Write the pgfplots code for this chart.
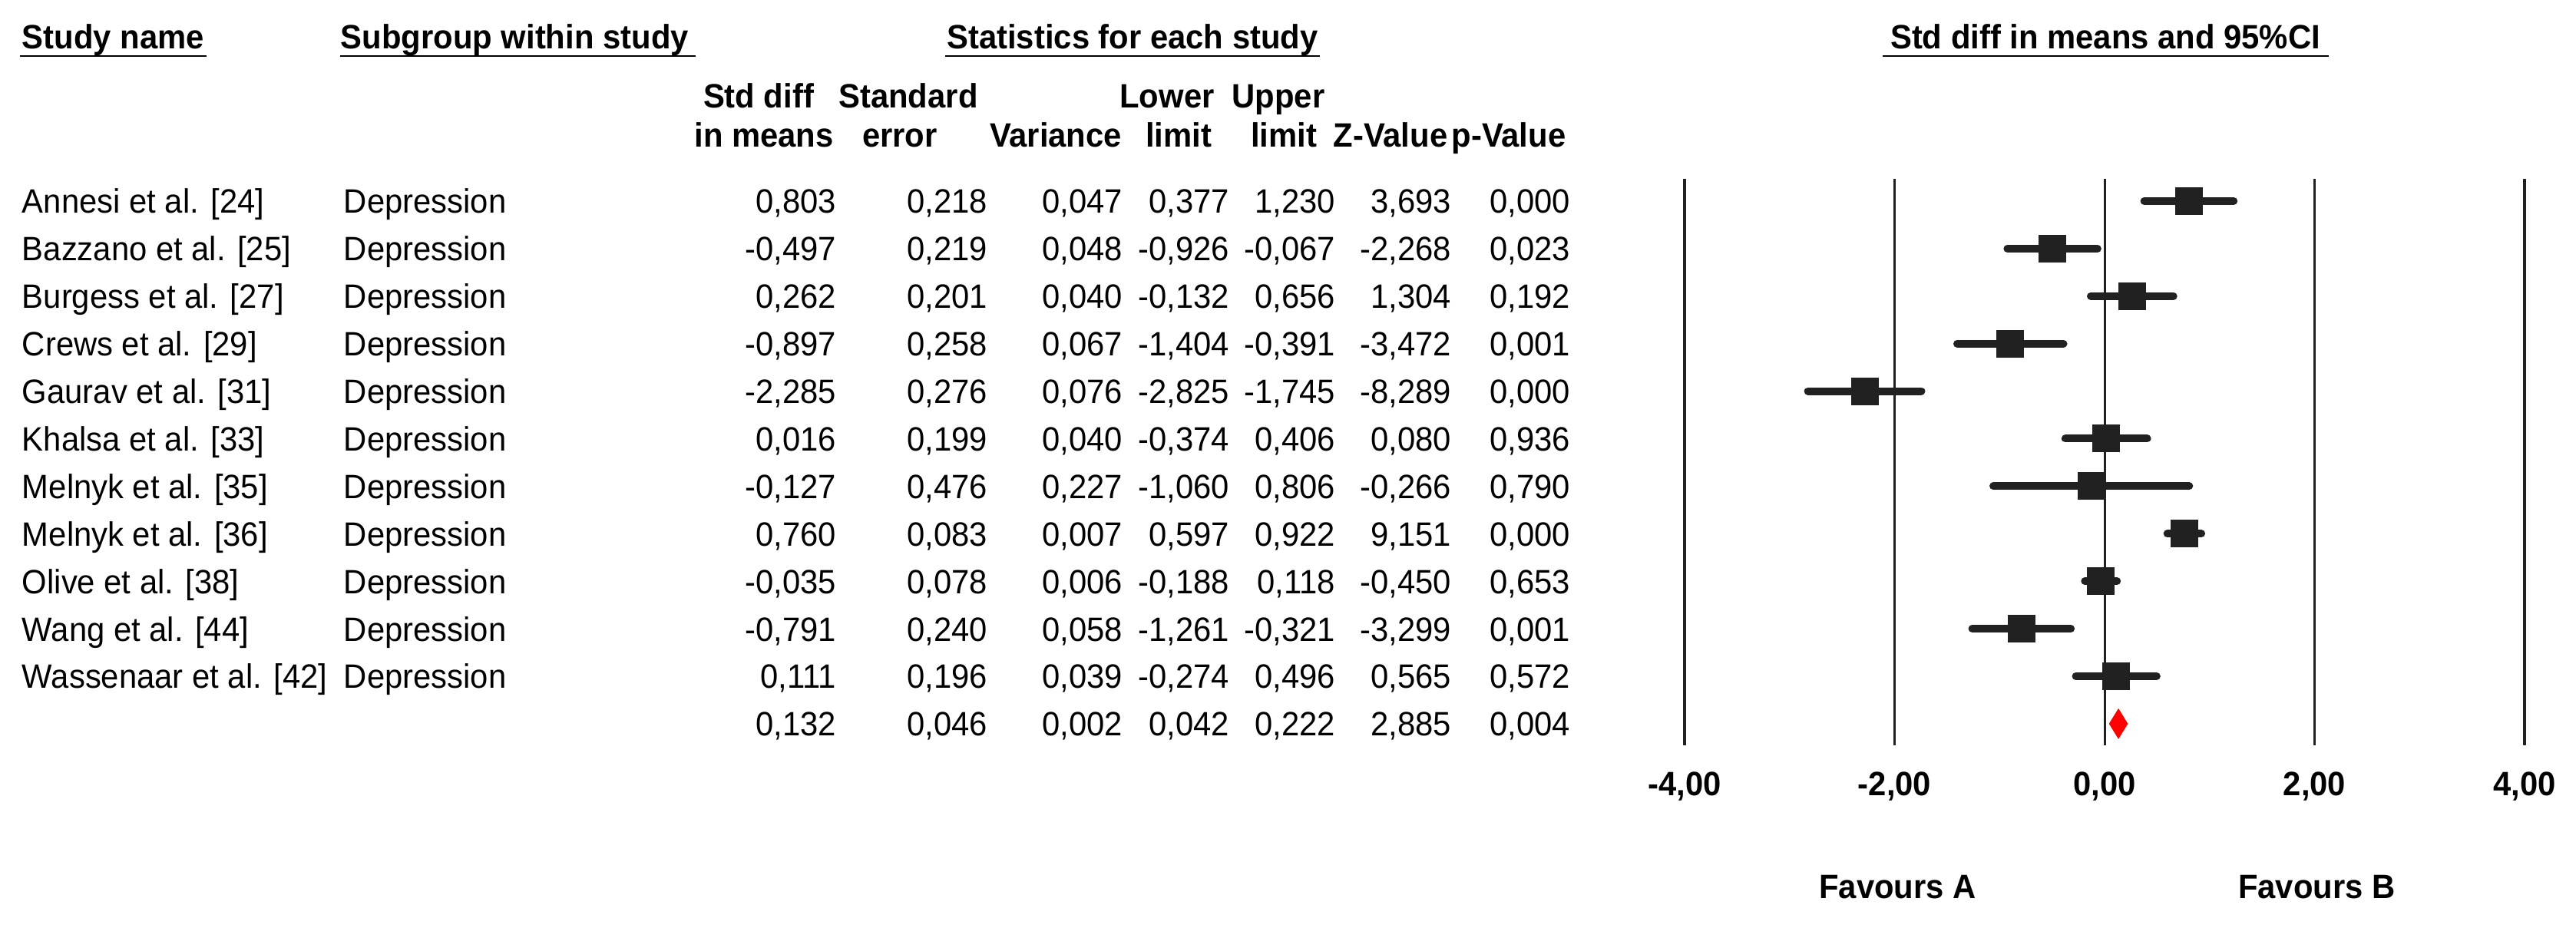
\documentclass[border=0pt]{standalone}
\usepackage{fontspec}
\setmainfont{Liberation Sans}[FakeStretch=0.95]
\usepackage{pgfplots}
\pgfplotsset{compat=1.18}
\usepackage{pgfplotstable}
\usetikzlibrary{calc}
\definecolor{mk}{RGB}{33,33,33}

\pgfplotstableread{
row est lo hi
0 0.803 0.377 1.230
-1 -0.497 -0.926 -0.067
-2 0.262 -0.132 0.656
-3 -0.897 -1.404 -0.391
-4 -2.285 -2.825 -1.745
-5 0.016 -0.374 0.406
-6 -0.127 -1.060 0.806
-7 0.760 0.597 0.922
-8 -0.035 -0.188 0.118
-9 -0.791 -1.261 -0.321
-10 0.111 -0.274 0.496
}\studies

% pixel -> rel axis cs helper
\newcommand\PX[2]{(rel axis cs:{(#1)/3355},{1-(#2)/1209})}
\newcommand\fs{\fontsize{8.8}{10}\selectfont}

\newcommand\datarow[9]{%
  \node[anchor=base west] at \PX{28}{278+61.9*#1} {#2};
  \node[anchor=base west] at \PX{447}{278+61.9*#1} {#3};
  \node[anchor=base east] at \PX{1090}{278+61.9*#1} {#4};
  \node[anchor=base east] at \PX{1287}{278+61.9*#1} {#5};
  \node[anchor=base east] at \PX{1463}{278+61.9*#1} {#6};
  \node[anchor=base east] at \PX{1602}{278+61.9*#1} {#7};
  \node[anchor=base east] at \PX{1740}{278+61.9*#1} {#8};
  \node[anchor=base east] at \PX{1891}{278+61.9*#1} {#9};
}
\newcommand\lastcol[2]{%
  \node[anchor=base east] at \PX{2046}{278+61.9*#1} {#2};
}

\begin{document}
\begin{tikzpicture}[every node/.style={font=\fs, inner sep=0pt}]
\begin{axis}[
  width=671pt, height=241.8pt, scale only axis,
  xmin=-20.044, xmax=4.490,
  ymin=-15.299, ymax=4.2327,
  hide axis, clip=false,
]
% vertical reference lines
\addplot[mk, line width=0.6pt] coordinates {(-2,0.4685) (-2,-11.454)};
\addplot[mk, line width=0.6pt] coordinates {(0,0.4685) (0,-11.454)};
\addplot[mk, line width=0.6pt] coordinates {(2,0.4685) (2,-11.454)};
\addplot[mk, line width=0.8pt] coordinates {(-4,0.4685) (-4,-11.454)};
\addplot[mk, line width=0.8pt] coordinates {(4,0.4685) (4,-11.454)};

% study estimates with CI
\addplot[only marks, mark=square*, mark size=3.4pt,
  mark options={fill=mk, draw=mk, line width=0.4pt},
  error bars/.cd, x dir=both, x explicit, error mark=none,
  error bar style={line width=2pt, line cap=round, color=mk}]
  table[x=est, y=row,
    x error plus expr=\thisrow{hi}-\thisrow{est},
    x error minus expr=\thisrow{est}-\thisrow{lo}] {\studies};

% summary diamond
\addplot[fill=red, draw=none] coordinates {(0.042,-11) (0.132,-10.677) (0.222,-11) (0.132,-11.323)} -- cycle;

% headers
\node[anchor=base west, font=\fs\bfseries] at \PX{28}{64} {Study name};
\node[anchor=base west, font=\fs\bfseries] at \PX{443}{64} {Subgroup within study};
\node[anchor=base, font=\fs\bfseries] at \PX{1475}{64} {Statistics for each study};
\node[anchor=base, font=\fs\bfseries] at \PX{2742}{64} {Std diff in means and 95\%CI};
% header underlines
\draw[line width=0.4pt] \PX{26}{73} -- \PX{269}{73};
\draw[line width=0.4pt] \PX{443}{73} -- \PX{906}{73};
\draw[line width=0.4pt] \PX{1231}{73} -- \PX{1719}{73};
\draw[line width=0.4pt] \PX{2452}{73} -- \PX{3033}{73};

\node[anchor=base, font=\fs\bfseries] at \PX{988}{141} {Std diff};
\node[anchor=base, font=\fs\bfseries] at \PX{995}{192} {in means};
\node[anchor=base, font=\fs\bfseries] at \PX{1183}{141} {Standard};
\node[anchor=base, font=\fs\bfseries] at \PX{1172}{192} {error};
\node[anchor=base, font=\fs\bfseries] at \PX{1375}{192} {Variance};
\node[anchor=base, font=\fs\bfseries] at \PX{1520}{141} {Lower};
\node[anchor=base, font=\fs\bfseries] at \PX{1535}{192} {limit};
\node[anchor=base, font=\fs\bfseries] at \PX{1665}{141} {Upper};
\node[anchor=base, font=\fs\bfseries] at \PX{1672}{192} {limit};
\node[anchor=base, font=\fs\bfseries] at \PX{1811}{192} {Z-Value};
\node[anchor=base, font=\fs\bfseries] at \PX{1965}{192} {p-Value};

% table rows
\datarow{0}{Annesi et al. [24]}{Depression}{0,803}{0,218}{0,047}{0,377}{1,230}{3,693}\lastcol{0}{0,000}
\datarow{1}{Bazzano et al. [25]}{Depression}{-0,497}{0,219}{0,048}{-0,926}{-0,067}{-2,268}\lastcol{1}{0,023}
\datarow{2}{Burgess et al. [27]}{Depression}{0,262}{0,201}{0,040}{-0,132}{0,656}{1,304}\lastcol{2}{0,192}
\datarow{3}{Crews et al. [29]}{Depression}{-0,897}{0,258}{0,067}{-1,404}{-0,391}{-3,472}\lastcol{3}{0,001}
\datarow{4}{Gaurav et al. [31]}{Depression}{-2,285}{0,276}{0,076}{-2,825}{-1,745}{-8,289}\lastcol{4}{0,000}
\datarow{5}{Khalsa et al. [33]}{Depression}{0,016}{0,199}{0,040}{-0,374}{0,406}{0,080}\lastcol{5}{0,936}
\datarow{6}{Melnyk et al. [35]}{Depression}{-0,127}{0,476}{0,227}{-1,060}{0,806}{-0,266}\lastcol{6}{0,790}
\datarow{7}{Melnyk et al. [36]}{Depression}{0,760}{0,083}{0,007}{0,597}{0,922}{9,151}\lastcol{7}{0,000}
\datarow{8}{Olive et al. [38]}{Depression}{-0,035}{0,078}{0,006}{-0,188}{0,118}{-0,450}\lastcol{8}{0,653}
\datarow{9}{Wang et al. [44]}{Depression}{-0,791}{0,240}{0,058}{-1,261}{-0,321}{-3,299}\lastcol{9}{0,001}
\datarow{10}{Wassenaar et al. [42]}{Depression}{0,111}{0,196}{0,039}{-0,274}{0,496}{0,565}\lastcol{10}{0,572}
\datarow{11}{}{}{0,132}{0,046}{0,002}{0,042}{0,222}{2,885}\lastcol{11}{0,004}

% x tick labels
\node[anchor=base, font=\fs\bfseries] at (axis cs:-4,-12.52) {-4,00};
\node[anchor=base, font=\fs\bfseries] at (axis cs:-2,-12.52) {-2,00};
\node[anchor=base, font=\fs\bfseries] at (axis cs:0,-12.52) {0,00};
\node[anchor=base, font=\fs\bfseries] at (axis cs:2,-12.52) {2,00};
\node[anchor=base, font=\fs\bfseries] at (axis cs:4,-12.52) {4,00};
\node[anchor=base, font=\fs\bfseries] at (axis cs:-1.97,-14.685) {Favours A};
\node[anchor=base, font=\fs\bfseries] at (axis cs:2.02,-14.685) {Favours B};
\end{axis}
\pgfresetboundingbox
\useasboundingbox (current axis.south west) rectangle (current axis.north east);
\end{tikzpicture}
\end{document}
